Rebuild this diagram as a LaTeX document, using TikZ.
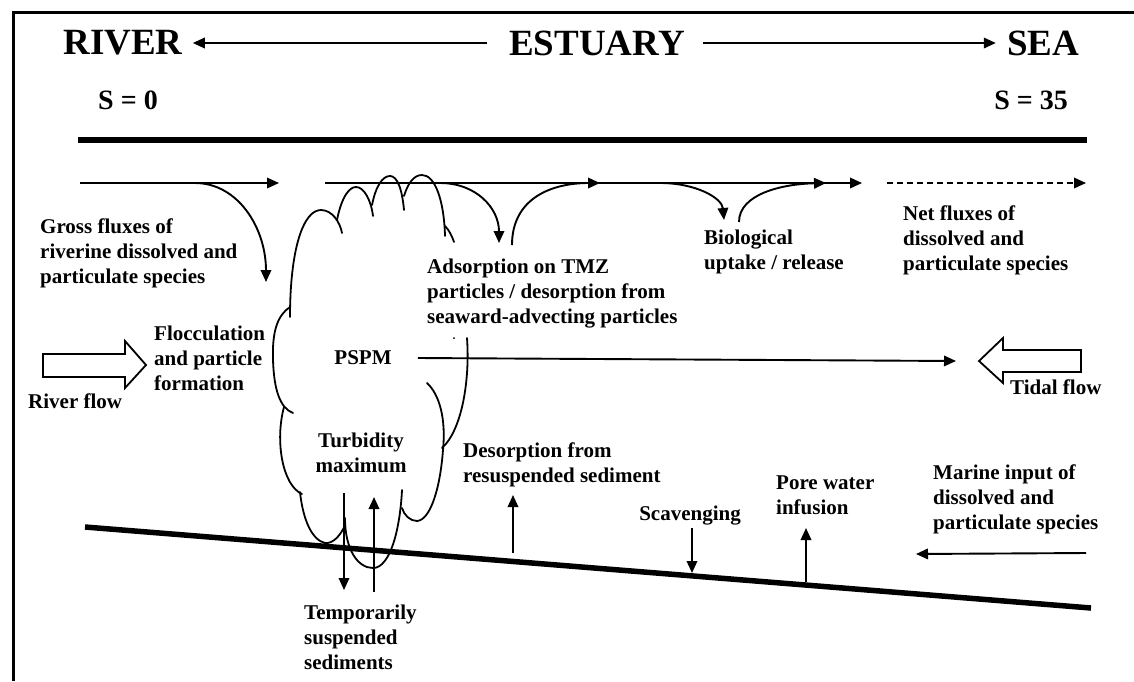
\documentclass[tikz,border=0pt]{standalone}
\usepackage{fontspec}
\setmainfont{Liberation Serif}
\usetikzlibrary{arrows.meta}
\begin{document}
\begin{tikzpicture}[x=1pt,y=-1pt,
  lbl/.style={font=\fontsize{21}{25}\selectfont\bfseries, align=left, inner sep=0pt, anchor=north west},
  ttl/.style={font=\fontsize{37}{40}\selectfont\bfseries, inner sep=0pt},
  sal/.style={font=\fontsize{28}{30}\selectfont\bfseries, inner sep=0pt},
  arr/.style={line width=1.9pt, -{Triangle[length=12pt,width=10.5pt]}},
  cloudln/.style={line width=1.8pt, line cap=round},
  blockarr/.style={line width=1.8pt, line join=miter, fill=white}]
\useasboundingbox (0,0) rectangle (1134,681);
% frame
\draw[line width=3pt] (13,681) -- (13,12) -- (1134,12);
% titles
\node[ttl] (river) at (123,43) {RIVER};
\node[ttl] (estuary) at (597,43) {ESTUARY};
\node[ttl] (sea) at (1043,43) {SEA};
\draw[arr] ([xshift=-22pt]estuary.west) -- ([xshift=10pt]river.east);
\draw[arr] ([xshift=18pt]estuary.east) -- ([xshift=-11pt]sea.west);
\node[sal] (s0) at (128,100) {S = 0};
\node[sal] (s35) at (1031,100) {S = 35};
% surface line
\coordinate (surfL) at (78,140);
\coordinate (surfR) at (1087,140);
\draw[line width=6pt] (surfL) -- (surfR);
% flux arrows
\coordinate (f1a) at (80,183);
\coordinate (f1b) at (279,183);
\coordinate (f2a) at (325,183);
\coordinate (f2b) at (862,183);
\coordinate (f3a) at (887,183);
\coordinate (f3b) at (1086,183);
\draw[arr] (f1a) -- (f1b);
\draw[arr] (f2a) -- (f2b);
\draw[arr, dashed, dash pattern=on 6pt off 4pt] (f3a) -- (f3b);
% curved exchanges
\coordinate (c1a) at (195,183);
\coordinate (c1b) at (266,282);
\draw[arr] (c1a) .. controls (238,183) and (266,228) .. (c1b);
\coordinate (c2a) at (440,183);
\coordinate (c2b) at (499,243);
\draw[arr] (c2a) .. controls (476,183) and (499,208) .. (c2b);
\coordinate (c3a) at (512,245);
\coordinate (c3b) at (600,183);
\draw[arr] (c3a) .. controls (512,198) and (552,183) .. (c3b);
\coordinate (c4a) at (660,183);
\coordinate (c4b) at (724,220);
\draw[arr] (c4a) .. controls (696,183) and (722,198) .. (c4b);
\coordinate (c5a) at (739,222);
\coordinate (c5b) at (826,183);
\draw[arr] (c5a) .. controls (739,194) and (782,184) .. (c5b);
% cloud (turbidity maximum)
\draw[cloudln] (290,317) .. controls (290,250) and (303,210) .. (321,210) .. controls (332,210) and (340,222) .. (342,233);
\draw[cloudln] (337,220) .. controls (342,195) and (350,187) .. (356,187) .. controls (364,187) and (371,200) .. (373,216);
\draw[cloudln] (372,205) .. controls (376,185) and (383,176) .. (390,176) .. controls (397,176) and (402,188) .. (404,210);
\draw[cloudln] (404,196) .. controls (408,183) and (414,175) .. (422,175) .. controls (435,175) and (444,200) .. (445,236);
\draw[cloudln] (445,226) .. controls (449,230) and (452,236) .. (454,242);
\draw[cloudln] (290,307) .. controls (278,315) and (272,330) .. (273,360) .. controls (274,390) and (280,408) .. (293,413);
\draw[cloudln] (284,407) .. controls (275,440) and (282,485) .. (302,494);
\draw[cloudln] (300,492) .. controls (303,520) and (312,540) .. (325,543) .. controls (333,544) and (341,535) .. (345,525);
\draw[cloudln] (345,518) .. controls (345,550) and (358,568) .. (373,568) .. controls (390,568) and (400,530) .. (402,490);
\draw[cloudln] (467,338) .. controls (470,380) and (462,430) .. (442,448);
\draw[cloudln] (427,383) .. controls (440,395) and (446,420) .. (443,450) .. controls (440,490) and (430,520) .. (417,521) .. controls (410,521) and (404,515) .. (402,508);
\fill (454,338) circle (1pt);
% labels
\node[lbl] (gross) at (40,219) {Gross fluxes of\\riverine dissolved and\\particulate species};
\node[lbl] (adsorp) at (427,259) {Adsorption on TMZ\\particles / desorption from\\seaward-advecting particles};
\node[lbl] (bio) at (704,230) {Biological\\uptake / release};
\node[lbl] (net) at (903,206) {Net fluxes of\\dissolved and\\particulate species};
\node[lbl] (floc) at (154,326) {Flocculation\\and particle\\formation};
\node[lbl, anchor=center] (pspm) at (363,358) {PSPM};
\node[lbl, anchor=north, align=center] (turb) at (361,433) {Turbidity\\maximum};
\node[lbl] (desorp) at (463,443) {Desorption from\\resuspended sediment};
\node[lbl] (temp) at (304,605) {Temporarily\\suspended\\sediments};
\node[lbl, anchor=north] (scav) at (690,506) {Scavenging};
\node[lbl] (pore) at (776,476) {Pore water\\infusion};
\node[lbl] (marine) at (933,465) {Marine input of\\dissolved and\\particulate species};
\node[lbl] (riverflow) at (28,394) {River flow};
\node[lbl] (tidalflow) at (1010,380) {Tidal flow};
% block arrows
\draw[blockarr] (43,354) -- (125,354) -- (125,341) -- (146,365) -- (125,388) -- (125,377) -- (43,377) -- cycle;
\coordinate (tidetip) at (979,361);
\draw[blockarr] (tidetip) -- (1003,338) -- (1003,350) -- (1081,350) -- (1081,372) -- (1003,372) -- (1003,383) -- cycle;
% PSPM transport
\draw[arr] ([xshift=26pt]pspm.east) -- ([xshift=-23pt]tidetip);
% sediment bed
\coordinate (bedL) at (85,527);
\coordinate (bedR) at (1091,608);
\draw[line width=5.5pt] (bedL) -- (bedR);
% vertical exchanges
\coordinate (d1a) at (513,553); \coordinate (d1b) at (513,495);
\draw[arr] (d1a) -- (d1b);
\coordinate (t1a) at (344,493); \coordinate (t1b) at (344,590);
\draw[arr] (t1a) -- (t1b);
\coordinate (t2a) at (374,592); \coordinate (t2b) at (374,497);
\draw[arr] (t2a) -- (t2b);
\coordinate (sc1) at (692,528); \coordinate (sc2) at (692,573);
\draw[arr] (sc1) -- (sc2);
\coordinate (po1) at (806,582); \coordinate (po2) at (806,528);
\draw[arr] (po1) -- (po2);
\coordinate (m1) at (1086,553); \coordinate (m2) at (916,554);
\draw[arr] (m1) -- (m2);
\end{tikzpicture}
\end{document}
